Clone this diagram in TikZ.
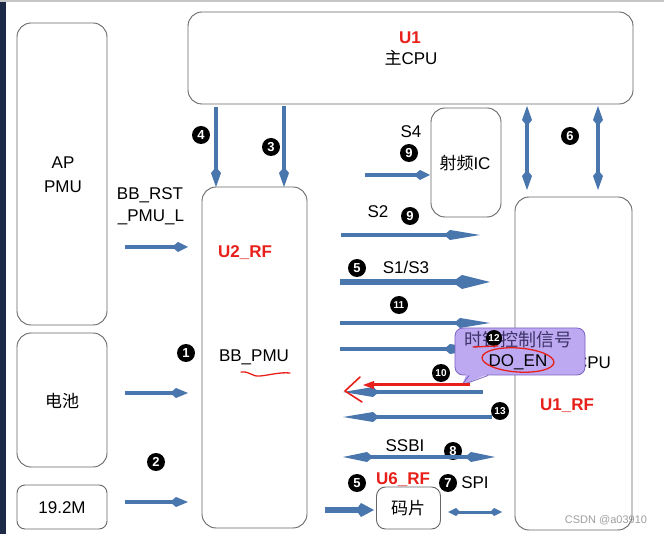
\documentclass[tikz,border=0pt]{standalone}
\usepackage{fontspec}
\setmainfont{Liberation Sans}
\newfontfamily\cjk{Noto Sans CJK SC}
\usetikzlibrary{arrows.meta}
\definecolor{arrblue}{HTML}{4A76AE}
\definecolor{boxline}{HTML}{666666}
\definecolor{redtxt}{HTML}{E8201A}
\definecolor{cofill}{HTML}{BCA9F2}
\definecolor{coline}{HTML}{7A62C0}
\definecolor{cotext}{HTML}{3E3468}
\definecolor{navy}{HTML}{1C2947}
\begin{document}
\begin{tikzpicture}[x=1pt,y=-1pt,
 box/.style={draw=boxline, line width=0.9pt, rounded corners=14pt, fill=white, inner sep=0pt},
 lbl/.style={font=\fontsize{17}{20}\selectfont, inner sep=0pt, align=center},
 rlbl/.style={inner sep=0pt, font=\fontsize{17}{20}\selectfont\bfseries, text=redtxt},
 num/.style={circle, fill=black, text=white, inner sep=0pt, minimum size=18pt, font=\fontsize{13}{13}\selectfont\bfseries},
 nums/.style={num, font=\fontsize{10}{10}\selectfont\bfseries},
 arr/.style={draw=arrblue, line width=3.5pt, -{Kite[length=#1,width=10pt,inset=6pt]}},
 arr/.default=20pt,
 darr/.style={draw=arrblue, line width=3.5pt, {Kite[length=#1,width=10pt,inset=6pt]}-{Kite[length=#1,width=10pt,inset=6pt]}},
 darr/.default=20pt,
]
\useasboundingbox (0,0) rectangle (664,534);
\fill[white] (0,0) rectangle (664,534);
\fill[navy] (0,0) rectangle (6,534);
\fill[gray!45] (0,0) rectangle (664,2);

% boxes
\node[box, minimum width=445pt, minimum height=92pt] (u1) at (410.5,58) {};
\node[box, minimum width=90pt, minimum height=302pt] (ap) at (62,174) {};
\node[box, minimum width=90pt, minimum height=134pt] (bat) at (62,400) {};
\node[box, minimum width=90pt, minimum height=44pt, rounded corners=8pt] (osc) at (62,507) {};
\node[box, minimum width=105pt, minimum height=341pt] (u2) at (254.5,357.5) {};
\node[box, minimum width=70pt, minimum height=109pt] (rfic) at (466,162.5) {};
\node[box, minimum width=117pt, minimum height=333pt] (u1rf) at (573.5,363.5) {};
\node[box, minimum width=64pt, minimum height=42pt, rounded corners=9pt] (chip) at (408.5,508) {};

% texts
\node[rlbl] (tU1) at (410,38) {U1};
\node[lbl] (tU1b) at (411,58) {{\cjk 主}CPU};
\node[lbl] (tAP) at (63,163) {AP};
\node[lbl] (tPMU) at (63,187) {PMU};
\node[lbl] (tRST) at (150,195) {BB\_RST};
\node[lbl] (tRST2) at (151,217) {\_PMU\_L};
\node[rlbl] (tU2) at (245,253) {U2\_RF};
\node[lbl] (tBBP) at (254,357) {BB\_PMU};
\node[lbl] (tbat) at (62,401) {\cjk 电池};
\node[lbl] (tosc) at (62,508) {19.2M};
\node[lbl] (trf) at (465,163) {{\cjk 射频}IC};
\node[lbl] (tS4) at (411,132) {S4};
\node[lbl] (tS2) at (378,212) {S2};
\node[lbl] (tS13) at (406,267) {S1/S3};
\node[lbl] (tcpu) at (593,363) {CPU};
\node[rlbl] (tU1rf) at (567,406) {U1\_RF};
\node[lbl] (tssbi) at (405,446) {SSBI};
\node[rlbl] (tU6) at (403,480) {U6\_RF};
\node[lbl] (tspi) at (475,483) {SPI};
\node[lbl] (tchip) at (408,508) {\cjk 码片};

% numbers
\node[num] (n4) at (201,135) {4};
\node[num] (n3) at (271,147) {3};
\node[num] (n9a) at (409,153) {9};
\node[num] (n6) at (570,136) {6};
\node[num] (n9b) at (410,216) {9};
\node[num] (n5a) at (357,268) {5};
\node[nums] (n11) at (399,305) {11};
\node[num] (n1) at (186,353) {1};
\node[num] (n2) at (156,462) {2};
\node[nums] (n10) at (441,373) {10};
\node[nums] (n13) at (500,411) {13};
\node[num] (n8) at (453,451) {8};
\node[num] (n5b) at (357,483) {5};
\node[num] (n7) at (448,483) {7};

% arrow end points
\coordinate (a4s) at (216,107); \coordinate (a4e) at (216,187);
\coordinate (a3s) at (284,106); \coordinate (a3e) at (284,187);
\coordinate (v1s) at (527,106); \coordinate (v1e) at (527,190);
\coordinate (v2s) at (598,106); \coordinate (v2e) at (598,190);
\coordinate (s4s) at (365,175); \coordinate (s4e) at (430,175);
\coordinate (rsts) at (125,247); \coordinate (rste) at (188,247);
\coordinate (s2s) at (341,235); \coordinate (s2e) at (480,235);
\coordinate (s13s) at (340,282); \coordinate (s13e) at (490,282);
\coordinate (s11s) at (340,323); \coordinate (s11e) at (490,323);
\coordinate (s12s) at (340,349); \coordinate (s12e) at (480,349);
\coordinate (l1s) at (483,392); \coordinate (l1e) at (343,392);
\coordinate (l2s) at (492,417); \coordinate (l2e) at (343,417);
\coordinate (ssa) at (343,457); \coordinate (ssb) at (495,457);
\coordinate (bats) at (125,393); \coordinate (bate) at (188,393);
\coordinate (oscs) at (125,502); \coordinate (osce) at (188,502);
\coordinate (chs) at (325,510); \coordinate (che) at (374,510);
\coordinate (spa) at (448,512); \coordinate (spb) at (502,512);

% arrows
\draw[arr] (a4s) -- (a4e);
\draw[arr] (a3s) -- (a3e);
\draw[darr] (v1s) -- (v1e);
\draw[darr] (v2s) -- (v2e);
\draw[arr=16pt] (s4s) -- (s4e);
\draw[arr=16pt] (rsts) -- (rste);
\draw[arr=36pt] (s2s) -- (s2e);
\draw[draw=arrblue, line width=6pt, -{Kite[length=38pt,width=14pt,inset=10pt]}] (s13s) -- (s13e);
\draw[arr=36pt] (s11s) -- (s11e);
\draw[arr=36pt] (s12s) -- (s12e);
\draw[arr=36pt] (l1s) -- (l1e);
\draw[arr=36pt] (l2s) -- (l2e);
\draw[darr=30pt] (ssa) -- (ssb);
\draw[arr=18pt] (bats) -- (bate);
\draw[arr=18pt] (oscs) -- (osce);
\draw[draw=arrblue, line width=6pt, -{Kite[length=18pt,width=14pt,inset=5pt]}] (chs) -- (che);
\draw[draw=arrblue, line width=3pt, {Kite[length=12pt,width=8pt,inset=4pt]}-{Kite[length=12pt,width=8pt,inset=4pt]}] (spa) -- (spb);

% callout
\node[draw=coline, fill=cofill, rounded corners=8pt, minimum width=130pt, minimum height=47pt, line width=0.8pt] (co) at (520,351.5) {};
\fill[cofill] (467,373) -- (462,385) -- (490,373) -- cycle;
\draw[coline, line width=0.8pt] (469,375.5) -- (462,385) -- (488,375.5);
\node[font=\fontsize{18}{20}\selectfont\cjk, text=cotext, inner sep=0pt] (co1) at (518,340) {时钟控制信号};
\node[lbl] (co2) at (518,362) {DO\_EN};
\node[nums, minimum size=16pt] (n12) at (494,338) {12};

% red annotations
\coordinate (ras) at (470,385); \coordinate (rae) at (362,385);
\draw[redtxt, line width=3pt, -{Triangle[length=12pt,width=7pt]}] (ras) -- (rae);
\draw[redtxt, line width=1.6pt, line cap=round, line join=round] (360,377) -- (345,391) -- (362,402);
\draw[redtxt, line width=1.3pt, line cap=round] (241,372) .. controls (250,371) and (252,377) .. (260,376) .. controls (270,375) and (280,372) .. (290,373);
\draw[redtxt, line width=1.3pt, line cap=round] (473,347) -- (498,346);
\draw[redtxt, line width=1.3pt, rotate around={-4:(518,360)}] (518,360) ellipse [x radius=36pt, y radius=12pt];

% watermark
\node[font=\fontsize{11}{11}\selectfont, text=gray!75, inner sep=0pt] (wm) at (606,520) {CSDN @a03910};
\end{tikzpicture}
\end{document}
